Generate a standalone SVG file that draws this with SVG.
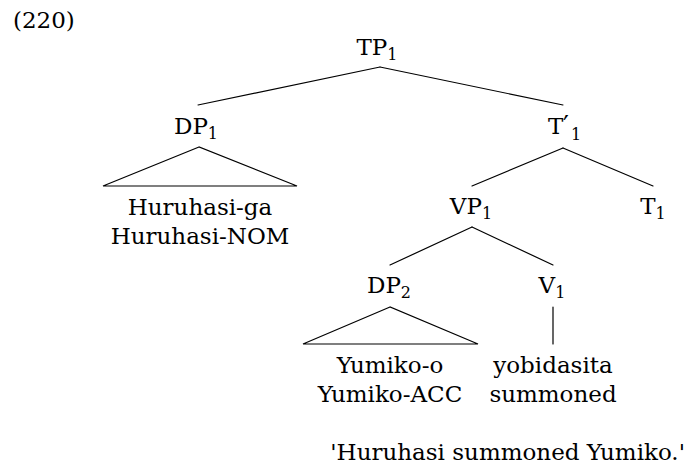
<svg xmlns="http://www.w3.org/2000/svg" width="689" height="475" viewBox="0 0 689 475">
<style>
text{font-family:"DejaVu Serif",serif;font-size:23px;fill:#000}
.c{text-anchor:middle}
.s{font-size:16px}
.e line,.e polygon{stroke:#000;stroke-width:1.2;fill:none;stroke-linecap:round;stroke-linejoin:miter}
</style>
<rect width="689" height="475" fill="#fff"/>
<text id="exnum" x="13" y="28">(220)</text>
<g id="connectors" class="e">
<line x1="380" y1="67" x2="198" y2="105"/>
<line x1="380" y1="67" x2="563" y2="105"/>
<line x1="563" y1="148" x2="472" y2="186"/>
<line x1="563" y1="148" x2="653" y2="186"/>
<line x1="472" y1="227" x2="390" y2="265"/>
<line x1="472" y1="227" x2="553" y2="265"/>
<polygon points="199,147 103,186 297,186"/>
<polygon points="390,307 303,344 478,344"/>
<line x1="553" y1="307" x2="553" y2="344"/>
</g>
<g id="TP1"><text class="c" x="377" y="55">TP<tspan class="s" dy="5">1</tspan></text></g>
<g id="DP1"><text class="c" x="196" y="134">DP<tspan class="s" dy="5">1</tspan></text></g>
<g id="Tbar1"><text x="548" y="134">T<tspan x="563" y="134" font-size="26">′</tspan><tspan class="s" x="571" y="140">1</tspan></text></g>
<g id="DP1-leaf"><text class="c" x="200" y="215">Huruhasi-ga</text><text class="c" x="200" y="244">Huruhasi-NOM</text></g>
<g id="VP1"><text class="c" x="471" y="214">VP<tspan class="s" dy="5">1</tspan></text></g>
<g id="T1"><text class="c" x="653" y="214">T<tspan class="s" dy="5">1</tspan></text></g>
<g id="DP2"><text class="c" x="389" y="293">DP<tspan class="s" dy="5">2</tspan></text></g>
<g id="V1"><text class="c" x="552" y="293">V<tspan class="s" dy="5">1</tspan></text></g>
<g id="DP2-leaf"><text class="c" x="390" y="373">Yumiko-o</text><text class="c" x="390" y="402">Yumiko-ACC</text></g>
<g id="V1-leaf"><text class="c" x="553" y="373">yobidasita</text><text class="c" x="553" y="402">summoned</text></g>
<text id="translation" x="685" y="460" text-anchor="end">'Huruhasi summoned Yumiko.'</text>
</svg>
